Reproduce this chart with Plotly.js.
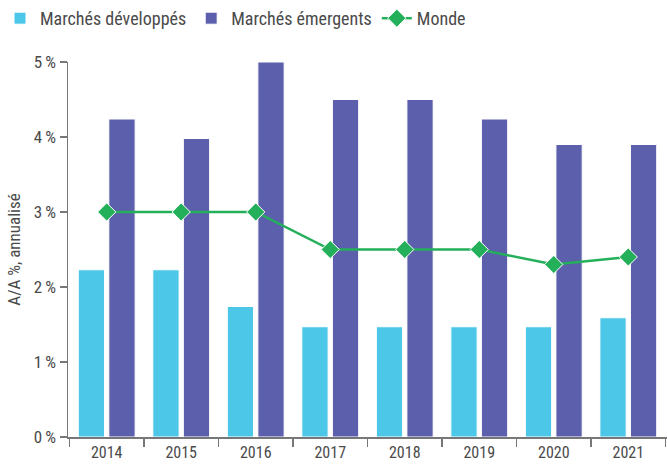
<!DOCTYPE html>
<html>
<head>
<meta charset="utf-8">
<script src="https://cdn.plot.ly/plotly-3.0.1.min.js"></script>
<style>html,body{margin:0;padding:0;background:#fff;}#chart{width:667px;height:464px;}</style>
</head>
<body>
<div id="chart"></div>
<script>
const years = ["2014","2015","2016","2017","2018","2019","2020","2021"];
const developed = [2.23, 2.23, 1.74, 1.47, 1.47, 1.47, 1.47, 1.59];
const emerging = [4.24, 3.98, 5.0, 4.5, 4.5, 4.24, 3.9, 3.9];
const world = [3.0, 3.0, 3.0, 2.5, 2.5, 2.5, 2.3, 2.4];
const yTicks = [0, 1, 2, 3, 4, 5];
const yTickText = ["0\u2009%", "1\u2009%", "2\u2009%", "3\u2009%", "4\u2009%", "5\u2009%"];

const FONT = "'Liberation Sans Narrow', 'Roboto Condensed', 'DejaVu Sans Condensed', Roboto, sans-serif";
const TXT = "#4a4a4a";

const data = [
  {type: "bar", name: "Marchés développés", x: years, y: developed,
   marker: {color: "#4DC7E8", line: {color: "#ffffff", width: 1}}},
  {type: "bar", name: "Marchés émergents", x: years, y: emerging,
   marker: {color: "#5B5FAC", line: {color: "#ffffff", width: 1}}},
  {type: "scatter", mode: "lines+markers", name: "Monde", x: years, y: world,
   line: {color: "#24B05A", width: 2.5},
   marker: {symbol: "diamond", size: 14, color: "#24B05A", line: {color: "#ffffff", width: 1}}}
];

const layout = {
  width: 667, height: 464,
  margin: {l: 68, r: 0, t: 62, b: 27},
  paper_bgcolor: "#ffffff", plot_bgcolor: "#ffffff",
  font: {family: FONT, size: 16, color: TXT},
  barmode: "group", bargap: 0.18, bargroupgap: 0.14,
  showlegend: true,
  legend: {orientation: "h", xref: "container", x: -0.01, xanchor: "left", yref: "container", y: 1, yanchor: "top",
           font: {family: FONT, size: 18, color: TXT}, itemwidth: 30, tracegroupgap: 0},
  xaxis: {
    type: "category", showgrid: false, showline: true, linecolor: "#777777", linewidth: 1.5,
    ticks: "outside", tickson: "boundaries", ticklen: 8, tickcolor: "#777777", tickwidth: 1.5,
    tickfont: {family: FONT, size: 16, color: TXT}, zeroline: false, ticklabelstandoff: 0
  },
  yaxis: {
    range: [0, 5], tickvals: yTicks, ticktext: yTickText, showgrid: false, zeroline: false,
    showline: true, linecolor: "#777777", linewidth: 1.5,
    ticks: "outside", ticklen: 7, tickcolor: "#777777", tickwidth: 1.5,
    tickfont: {family: FONT, size: 17, color: TXT},
    title: {text: "A/A %, annualisé", font: {family: FONT, size: 17, color: TXT}, standoff: 8}
  }
};

Plotly.newPlot("chart", data, layout, {displayModeBar: false, staticPlot: true});
</script>
</body>
</html>
